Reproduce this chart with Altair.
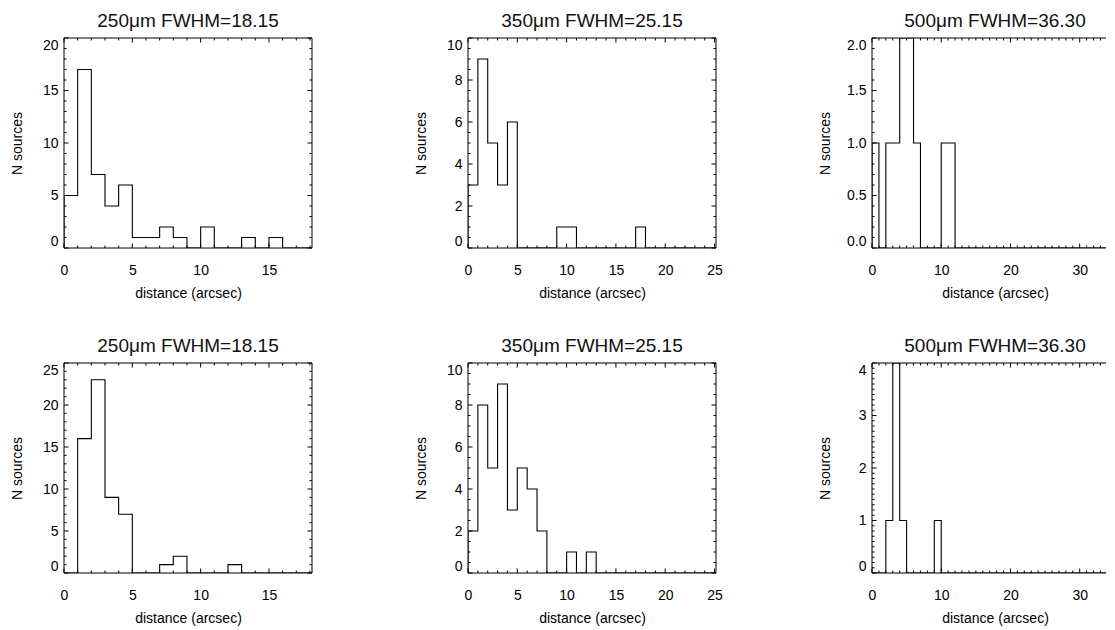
import altair as alt
import pandas as pd
import numpy as np

FONT = "Liberation Sans"
TFONT = "Liberation Sans"

# histogram counts, one value per 1-arcsec bin starting at 0
top_250 = [5, 17, 7, 4, 6, 1, 1, 2, 1, 0, 2, 0, 0, 1, 0, 1]
top_350 = [3, 9, 5, 3, 6, 0, 0, 0, 0, 1, 1, 0, 0, 0, 0, 0, 0, 1]
top_500 = [1, 0, 1, 1, 2, 2, 1, 0, 0, 0, 1, 1]
bot_250 = [0, 16, 23, 9, 7, 0, 0, 1, 2, 0, 0, 0, 1]
bot_350 = [2, 8, 5, 9, 3, 5, 4, 2, 0, 0, 1, 0, 1]
bot_500 = [0, 0, 1, 4, 1, 0, 0, 0, 0, 1]

titles = ["250μm FWHM=18.15", "350μm FWHM=25.15", "500μm FWHM=36.30"]
x_max = [18.15, 25.15, 33.8]          # last panel is cut at the picture edge
x_major = [[0, 5, 10, 15], [0, 5, 10, 15, 20, 25], [0, 10, 20, 30]]
x_minor = [1, 1, 1]
y_max_top = [20, 10, 2]
y_major_top = [[0, 5, 10, 15, 20], [0, 2, 4, 6, 8, 10], [0, 0.5, 1.0, 1.5, 2.0]]
y_minor_top = [1, 0.5, 0.1]
y_fmt_top = ["d", "d", ".1f"]
y_max_bot = [25, 10, 4]
y_major_bot = [[0, 5, 10, 15, 20, 25], [0, 2, 4, 6, 8, 10], [0, 1, 2, 3, 4]]
y_minor_bot = [1, 0.5, 0.1]
y_fmt_bot = ["d", "d", "d"]

W = [248, 248, 234]
TC = [124, 124, 123]    # horizontal centre of panel titles
H = 210
MAJ = 4.5
MIN = 2.5


def ticks(vmax, step, majors):
    allv = np.round(np.arange(0, vmax + 1e-9, step), 6)
    mins = [float(v) for v in allv if not any(abs(v - m) < 1e-6 for m in majors)]
    return pd.DataFrame({"x": majors, "y": majors}), pd.DataFrame({"x": mins, "y": mins})


def panel(counts, xmax, ymax, xmaj, xstep, ymaj, ystep, yfmt, title, w, h, tc, right=True):
    xs = [0] + list(range(len(counts))) + [len(counts), xmax]
    ys = [0] + list(counts) + [0, 0]
    df = pd.DataFrame({"x": xs, "y": ys, "i": list(range(len(xs)))})
    xsc = alt.Scale(domain=[0, xmax], nice=False, zero=False)
    ysc = alt.Scale(domain=[0, ymax], nice=False, zero=False)
    xax = alt.Axis(
        values=xmaj, format="d", title="distance (arcsec)", labelFlush=False,
        labelOverlap=False, labelPadding=15, titleY=49, titleBaseline="alphabetic",
        titleX=tc)
    yax = alt.Axis(
        values=ymaj, format=yfmt, title="N sources", labelFlush=True,
        labelOverlap=False, labelPadding=6, titleX=-47, titleY=h / 2,
        titleAngle=270, titleAlign="center", titleBaseline="middle")
    X = alt.X("x:Q", scale=xsc, axis=xax)
    Y = alt.Y("y:Q", scale=ysc, axis=yax)

    line = alt.Chart(df).mark_line(
        interpolate="step-after", color="black", strokeWidth=1.1, clip=True
    ).encode(x=X, y=Y, order="i:Q")

    one = pd.DataFrame({"a": [0]})
    frame = [
        alt.Chart(one).mark_rule(color="black", strokeWidth=1).encode(
            x=alt.value(0), x2=alt.value(w), y=alt.value(0)),
        alt.Chart(one).mark_rule(color="black", strokeWidth=1).encode(
            x=alt.value(0), x2=alt.value(w), y=alt.value(h)),
        alt.Chart(one).mark_rule(color="black", strokeWidth=1).encode(
            x=alt.value(0), y=alt.value(0), y2=alt.value(h)),
    ]
    if right:
        frame.append(alt.Chart(one).mark_rule(color="black", strokeWidth=1).encode(
            x=alt.value(w), y=alt.value(0), y2=alt.value(h)))

    xmj, xmn = ticks(xmax, xstep, xmaj)
    ymj, ymn = ticks(ymax, ystep, ymaj)
    tk = []
    for d, L in ((xmj, MAJ), (xmn, MIN)):
        tk.append(alt.Chart(d).mark_rule(color="black", strokeWidth=1).encode(
            x=X, y=alt.value(h), y2=alt.value(h - L)))
        tk.append(alt.Chart(d).mark_rule(color="black", strokeWidth=1).encode(
            x=X, y=alt.value(0), y2=alt.value(L)))
    for d, L in ((ymj, MAJ), (ymn, MIN)):
        tk.append(alt.Chart(d).mark_rule(color="black", strokeWidth=1).encode(
            y=Y, x=alt.value(0), x2=alt.value(L)))
        if right:
            tk.append(alt.Chart(d).mark_rule(color="black", strokeWidth=1).encode(
                y=Y, x=alt.value(w), x2=alt.value(w - L)))

    return alt.layer(line, *frame, *tk).properties(
        width=w, height=h,
        title=alt.TitleParams(title, fontSize=19, font=TFONT, fontWeight="normal",
                              color="#111111", offset=-8, frame="group",
                              anchor="middle", baseline="alphabetic",
                              dx=tc - w / 2),
    )


tops = [top_250, top_350, top_500]
bots = [bot_250, bot_350, bot_500]

panels = [
    panel(tops[k], x_max[k], y_max_top[k], x_major[k], x_minor[k], y_major_top[k],
          y_minor_top[k], y_fmt_top[k], titles[k], W[k], H, TC[k], right=(k < 2))
    for k in range(3)
] + [
    panel(bots[k], x_max[k], y_max_bot[k], x_major[k], x_minor[k], y_major_bot[k],
          y_minor_bot[k], y_fmt_bot[k], titles[k], W[k], H, TC[k], right=(k < 2))
    for k in range(3)
]

chart = alt.concat(*panels, columns=3, spacing={"row": 115, "column": 156},
                   bounds="flush").properties(
    padding={"left": 2, "top": 3, "right": 0, "bottom": 5},
    background="white",
).configure_axis(
    labelFont=FONT, labelFontSize=14, labelColor="black",
    titleFont=FONT, titleFontSize=14, titleColor="black", titleFontWeight="normal",
    ticks=False, domain=False, grid=False,
).configure_view(stroke=None)

chart.save("out.html", embed_options={"renderer": "svg", "actions": False})
